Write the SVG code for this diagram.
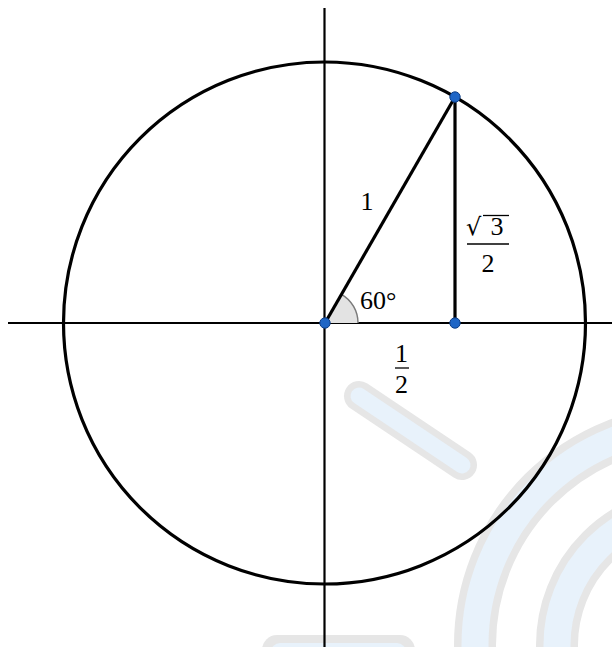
<svg xmlns="http://www.w3.org/2000/svg" width="612" height="647" viewBox="0 0 612 647">
<style>
.wmo{fill:none;stroke:#e6e6e6;stroke-linecap:round}
.wmi{fill:none;stroke:#e8f2fb;stroke-linecap:round}
.ax{stroke:#000;stroke-width:2.2;fill:none}
.th{stroke:#000;stroke-width:3.2;fill:none}
.pt{fill:#1f66c6;stroke:#0e3f88;stroke-width:1}
.lb{font-family:"Liberation Serif","DejaVu Serif",serif;font-size:26px;fill:#000}
</style>
<rect width="612" height="647" fill="#fff"/>
<g id="watermark">
<circle class="wmo" cx="695" cy="645" r="220" stroke-width="42"/>
<circle class="wmi" cx="695" cy="645" r="220" stroke-width="27"/>
<circle class="wmo" cx="695" cy="645" r="138" stroke-width="42"/>
<circle class="wmi" cx="695" cy="645" r="138" stroke-width="27"/>
<line class="wmo" x1="359" y1="396" x2="462" y2="465" stroke-width="30"/>
<line class="wmi" x1="359" y1="396" x2="462" y2="465" stroke-width="17"/>
<rect x="262" y="635" width="153" height="40" rx="15" fill="#e6e6e6"/>
<rect x="271" y="643" width="135" height="30" rx="9" fill="#e8f2fb"/>
</g>
<g id="circle"><circle class="th" cx="324.5" cy="323" r="261" stroke-width="2.8"/></g>
<g id="axes">
<line class="ax" x1="8" y1="323" x2="612" y2="323"/>
<line class="ax" x1="324.5" y1="8" x2="324.5" y2="647"/>
</g>
<g id="angle">
<path d="M325,323 L358,323 A33,33 0 0 0 341.5,294.4 Z" fill="#e3e3e3" stroke="none"/>
<path d="M358,323 A33,33 0 0 0 341.5,294.4" fill="none" stroke="#7a7a7a" stroke-width="1.5"/>
</g>
<g id="connectors">
<line class="th" x1="325" y1="323" x2="455" y2="97"/>
<line class="th" x1="455" y1="97" x2="455" y2="323"/>
</g>
<g id="points">
<circle class="pt" cx="325" cy="323" r="5.2"/>
<circle class="pt" cx="455" cy="323" r="5.2"/>
<circle class="pt" cx="455" cy="97" r="5.2"/>
</g>
<g id="labels">
<text class="lb" x="367" y="210" text-anchor="middle">1</text>
<text class="lb" x="360" y="309">60°</text>
<text x="466" y="235" style="font-family:'DejaVu Serif',serif;font-size:24px">√</text>
<line x1="483" y1="215.5" x2="509" y2="215.5" stroke="#000" stroke-width="1.3"/>
<text class="lb" x="497" y="235" text-anchor="middle">3</text>
<line x1="467" y1="244" x2="509" y2="244" stroke="#000" stroke-width="1.3"/>
<text class="lb" x="488" y="272" text-anchor="middle">2</text>
<text class="lb" x="401.5" y="362" text-anchor="middle">1</text>
<line x1="395" y1="368" x2="409" y2="368" stroke="#000" stroke-width="1.3"/>
<text class="lb" x="401.5" y="393" text-anchor="middle">2</text>
</g>
</svg>
